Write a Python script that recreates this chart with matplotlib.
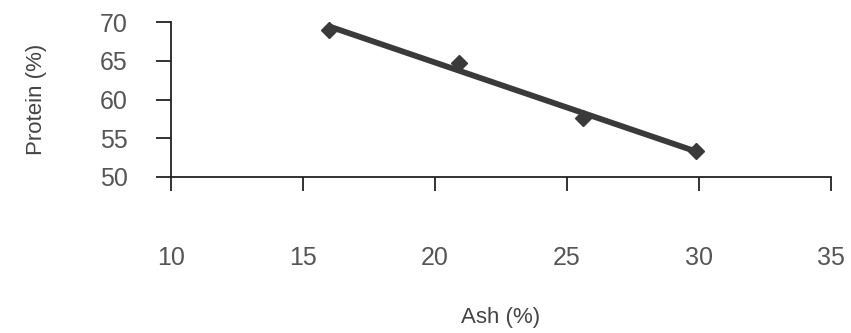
import numpy as np
import matplotlib
matplotlib.use("Agg")
import matplotlib.pyplot as plt

ash = [16.0, 20.9, 25.6, 29.9]
protein = [69.0, 64.7, 57.6, 53.4]
x_ticks = [10, 15, 20, 25, 30, 35]
y_ticks = [50, 55, 60, 65, 70]

plt.rcParams['font.family'] = ['Liberation Sans', 'DejaVu Sans']

fig = plt.figure(figsize=(8.51, 3.33), dpi=100)
ax = fig.add_axes([171/851, 1-177/333, (831-171)/851, (177-22)/333])

coef = np.polyfit(ash, protein, 1)
xl = np.array([min(ash), max(ash)])
ax.plot(xl, np.polyval(coef, xl), color='#3a3a3a', lw=4.2, solid_capstyle='round', zorder=2)
ax.plot(ash, protein, linestyle='none', marker='D', ms=8, color='#3a3a3a', zorder=3)

ax.set_xlim(10, 35)
ax.set_ylim(50, 70)
ax.set_xticks(x_ticks)
ax.set_yticks(y_ticks)
ax.spines['top'].set_visible(False)
ax.spines['right'].set_visible(False)
for s in ['left', 'bottom']:
    ax.spines[s].set_linewidth(1.3)
    ax.spines[s].set_color('#222222')
ax.tick_params(axis='x', direction='out', length=10, width=1.3, color='#222222',
               pad=40, labelsize=18, labelcolor='#555555')
ax.tick_params(axis='y', direction='out', length=11, width=1.3, color='#222222',
               pad=20, labelsize=18, labelcolor='#555555')
ax.set_xlabel('Ash (%)', fontsize=16, color='#444444', labelpad=26)
ax.set_ylabel('Protein (%)', fontsize=16, color='#444444', labelpad=38)
ax.patch.set_alpha(0)

fig.savefig('out.png', dpi=100)
